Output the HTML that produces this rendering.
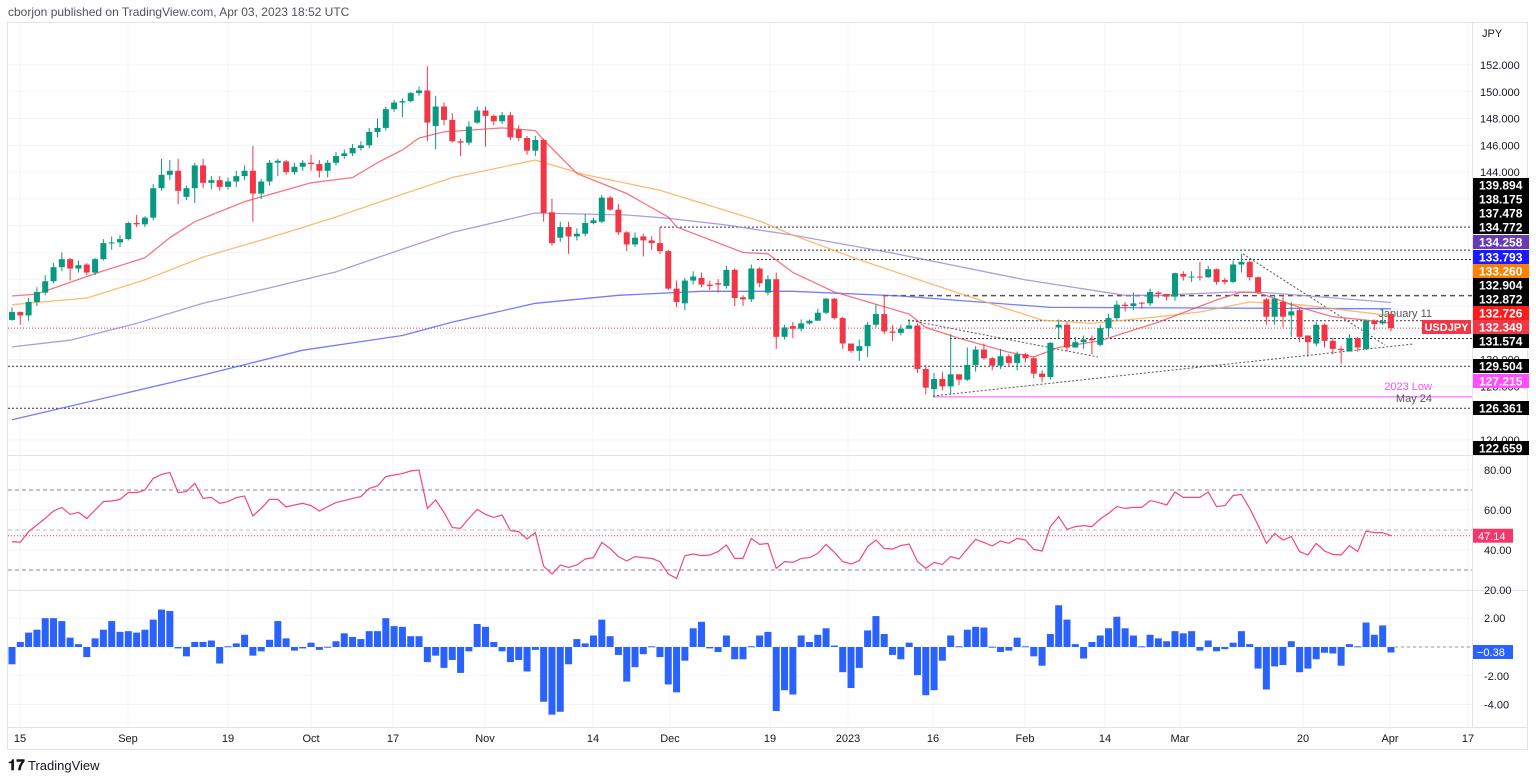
<!DOCTYPE html>
<html><head><meta charset="utf-8">
<style>
html,body{margin:0;padding:0;background:#fff;}
svg{display:block;font-family:"Liberation Sans",sans-serif;}
</style></head>
<body>
<svg id="c" width="1536" height="779" viewBox="0 0 1536 779" xmlns="http://www.w3.org/2000/svg">
<rect x="0" y="0" width="1536" height="779" fill="#fff"/>
<text x="8" y="16" font-size="12" fill="#50535e">cborjon published on TradingView.com, Apr 03, 2023 18:52 UTC</text>
<rect x="7.5" y="22.5" width="1520" height="727" fill="none" stroke="#e0e3eb"/>
<g id="grid"></g>
<g id="hlines"></g>
<g id="mas"></g>
<g id="candles"></g>
<g id="rsi"></g>
<g id="hist"></g>
<g id="axis"></g>
<g>
<text x="8" y="770" font-size="15" font-weight="bold" fill="#131722">𝟏𝟕</text>
<text x="28" y="770" font-size="13" fill="#131722">TradingView</text>
</g>
</svg>
<script>
// ---- data ----
const O=[132.96,133.55,133.3,134.3,135.0,135.85,136.9,137.5,136.8,137.1,136.5,137.5,138.7,138.75,139.0,140.2,140.1,140.6,142.8,143.8,144.1,142.15,142.8,144.5,143.2,143.4,142.9,143.3,143.7,144.1,142.4,143.3,144.7,144.8,144.0,144.4,144.7,144.6,144.1,144.7,145.2,145.4,145.8,146.0,147.0,147.3,148.7,149.2,149.3,149.9,150.1,147.45,148.9,147.9,146.3,146.2,147.7,148.6,148.2,147.8,148.25,147.2,146.55,145.6,146.4,141.0,139.1,139.9,139.2,139.4,140.2,140.3,142.1,141.2,139.5,138.6,139.2,138.9,138.7,138.1,135.3,134.2,135.9,136.1,135.6,135.7,135.5,136.7,134.65,134.5,136.8,135.0,136.0,131.7,132.5,132.3,132.7,132.9,133.5,134.55,133.1,131.2,130.65,131.0,132.6,133.4,132.1,132.0,132.3,132.55,129.3,127.8,128.55,128.0,128.9,128.5,129.6,130.75,130.1,129.55,130.25,129.75,130.4,130.1,128.95,128.7,132.4,132.6,130.9,131.3,131.55,131.1,132.35,133.1,134.1,134.0,134.25,134.2,135.0,134.9,134.7,136.4,136.2,136.2,136.15,136.75,135.95,135.8,137.1,137.3,136.15,134.5,133.2,134.3,133.3,133.7,131.8,131.2,132.6,131.4,130.8,130.6,131.6,130.8,132.9,132.7,133.4];
const C=[133.55,133.3,134.3,135.05,135.85,136.9,137.5,136.8,137.05,136.5,137.5,138.7,138.75,139.0,140.2,140.1,140.6,142.8,143.8,144.1,142.6,142.8,144.5,143.2,143.4,142.9,143.3,143.7,144.1,142.4,143.3,144.7,144.85,144.0,144.4,144.7,144.6,144.1,144.7,145.2,145.4,145.8,146.0,147.0,147.3,148.7,149.2,149.3,149.9,150.1,147.7,148.9,147.9,146.3,146.2,147.4,148.6,148.2,147.8,148.25,146.6,146.55,145.6,146.4,140.95,138.7,139.9,139.2,139.4,140.2,140.4,142.1,141.2,139.5,138.6,139.1,138.9,138.7,138.1,135.3,134.3,135.9,136.2,135.6,135.5,135.6,136.7,134.6,134.5,136.8,135.7,136.0,131.7,132.4,132.3,132.7,132.9,133.5,134.55,133.1,131.2,130.65,131.0,132.6,133.4,132.1,132.0,132.3,132.55,129.3,127.9,128.55,128.0,128.9,128.5,129.6,130.75,130.1,129.55,130.25,129.75,130.4,130.1,128.95,128.7,131.25,132.6,130.9,131.3,131.5,131.45,132.35,133.1,134.1,134.0,134.2,134.2,135.05,134.9,134.7,136.45,136.2,136.2,136.15,136.75,135.8,135.8,137.1,137.3,136.15,135.05,133.2,134.55,133.2,133.6,131.7,131.3,132.6,131.4,130.8,130.7,131.6,130.9,132.9,132.65,132.85,132.35];
const H=[133.9,133.6,134.6,135.4,136.3,137.2,138.0,137.6,137.4,137.2,137.6,139.0,139.2,139.3,140.3,140.8,140.7,143.1,145.0,144.9,145.0,143.0,144.7,145.0,143.7,143.7,143.6,144.1,144.5,145.95,143.5,144.9,145.0,144.9,144.7,144.9,145.3,144.9,144.9,145.5,145.7,146.1,146.3,147.3,148.0,148.9,149.4,149.5,150.0,150.4,151.9,149.7,149.2,148.4,146.5,147.8,148.9,148.9,148.3,148.5,148.5,147.5,146.7,146.7,146.5,142.0,140.3,140.3,139.8,140.9,140.6,142.3,142.2,141.6,139.6,139.5,139.4,139.2,139.9,138.2,135.9,136.1,136.6,136.5,135.9,136.0,137.0,136.8,134.8,137.1,136.9,136.3,136.5,132.6,132.8,133.0,133.0,133.8,134.6,134.6,133.2,131.2,131.5,132.8,134.1,134.8,132.6,132.6,132.9,132.7,129.6,129.0,129.1,131.9,128.9,130.9,131.0,131.2,130.2,130.8,130.4,130.6,130.5,130.2,129.2,131.3,133.0,132.8,131.7,131.8,131.8,132.6,133.4,134.4,134.3,135.0,134.3,135.3,135.1,134.9,136.5,136.6,136.6,137.3,137.0,136.8,136.1,137.4,137.9,137.4,136.2,134.6,134.8,134.8,134.3,133.8,131.8,132.8,132.7,131.6,131.0,131.9,131.7,133.0,133.0,133.7,133.6];
const L=[132.9,132.6,132.9,134.0,134.8,135.7,136.6,135.9,136.5,136.3,136.3,137.4,138.2,138.4,138.9,139.9,139.9,140.4,142.6,143.4,141.6,141.9,141.7,142.8,142.7,142.6,142.7,142.9,143.4,140.3,142.0,143.0,143.7,143.8,143.8,144.1,144.1,143.6,143.6,144.5,145.0,145.2,145.6,145.8,146.6,147.1,148.5,148.1,149.2,149.7,146.3,145.7,147.5,146.2,145.2,146.0,147.6,145.9,147.5,147.6,146.4,146.3,145.3,145.2,140.3,138.5,138.8,137.9,138.9,139.2,140.1,140.2,141.1,139.3,138.1,138.4,137.7,138.2,137.9,135.2,133.9,133.7,135.6,135.4,135.2,135.0,135.3,134.0,134.0,134.3,135.4,134.8,130.8,131.5,131.6,132.1,132.6,132.9,133.4,133.0,130.8,130.5,129.9,130.2,132.4,131.9,131.4,131.8,132.3,129.0,127.4,127.2,127.7,127.4,128.1,128.4,129.1,130.0,129.2,129.3,129.5,129.2,129.8,128.6,128.3,128.5,131.6,130.6,130.9,130.8,130.4,131.0,131.7,132.9,133.6,133.7,133.8,134.0,134.6,134.4,134.4,135.9,135.8,135.9,136.1,135.6,135.6,135.7,136.5,135.9,134.9,132.6,132.6,132.4,131.7,131.3,130.2,131.0,130.9,130.4,129.7,130.6,130.6,130.7,132.2,132.6,132.1];
const RSI=[44.2,43.9,49.2,52.5,55.8,59.5,61.3,57.8,58.8,55.8,60,64.2,64.5,65.3,68.8,68.7,70,75.8,77.8,78.8,68.7,69.2,73.3,65.8,66.3,63.3,64.2,66.2,67,57,60.8,65.3,65.3,61.5,62.5,63.3,62.2,59.5,61.7,63.7,64.7,65.8,66.7,70.8,72,76.7,77.5,78.2,79.5,80,60.8,65,58.8,51.2,50.8,55.8,60.3,57.8,56.3,57.5,49.7,49.2,45.5,48.7,32,28,32.5,31.3,32.5,35.5,36.2,43.8,40.8,36.7,34.5,36.7,36.2,35.8,34.2,28,25.8,37.2,38,37.2,37.5,39.2,42.5,35.8,35.8,45.8,42.8,43.3,30.8,34.2,33.8,35.8,36.2,38.3,42.8,38.8,34.2,33,34.7,41.7,45,40.8,40.5,42.2,43,34.2,30.8,33.8,32.8,36.7,35.5,40.5,45.3,43.8,42,44.5,43.3,45.8,45,40.3,39.5,51.7,56.7,50.3,51.7,52.2,51.7,55.5,58.3,61.7,60.8,61.3,61.3,64.7,63.8,62.5,69,66.3,66.3,66.3,69,61.7,62.2,67.2,67.8,60.8,52.5,43.3,48.3,45,46.7,39.2,37.5,43.3,39.5,37.8,37.5,42.2,39.2,49.5,48.7,48.7,47.14];
const HIST=[-1.2,0.35,1.0,1.2,2.0,2.0,1.8,0.65,0.2,-0.7,0.6,1.2,1.8,1.05,1.1,1.0,1.2,1.9,2.6,2.5,-0.1,-0.65,0.35,0.35,0.45,-1.15,0.05,0.25,0.85,-0.6,-0.3,0.5,1.8,0.6,-0.25,-0.1,0.3,-0.2,0.02,0.4,0.95,0.7,0.55,1.1,1.1,2.0,1.45,1.4,0.75,0.75,-1.05,-0.6,-1.45,-0.9,-1.8,-0.3,1.6,1.4,0.35,-0.3,-1.05,-0.9,-1.7,-0.2,-3.8,-4.7,-4.5,-1.2,0.55,0.25,0.8,1.9,0.75,-0.55,-2.4,-1.4,-0.5,0.05,-0.7,-2.6,-3.15,-0.95,1.3,1.75,-0.1,-0.35,0.8,-0.85,-0.85,0.05,0.8,1.05,-4.45,-3.0,-3.3,0.8,0.35,0.85,1.3,0.1,-1.75,-2.85,-1.45,1.15,2.15,0.9,-0.55,-0.85,0.3,-1.95,-3.35,-3.0,-0.95,0.8,0.05,1.2,1.4,1.35,0.02,-0.35,-0.25,0.65,0.05,-0.65,-1.3,0.9,2.9,1.9,0.2,-0.8,0.35,0.8,1.3,2.1,1.3,0.8,0.05,0.85,0.6,0.4,1.1,0.95,1.1,-0.25,0.45,-0.3,-0.15,0.3,1.1,0.2,-1.5,-2.95,-1.35,-1.25,0.4,-1.75,-1.5,-0.85,-0.4,-0.45,-1.3,0.2,0.05,1.7,0.85,1.5,-0.38];
// moving averages sampled at bar indices
const ma20Idx=[0,3,10.6,16,19,22,28,32,36,41,44,47,49,52,59,63,64,68,74,79,80,88,91,94,99,108,110,114,120,123,126,131,138,145,148,150,155,159,163,166];
const ma20Val=[134.75,134.9,136.55,137.6,139.1,140.3,141.8,142.5,143.2,143.6,144.7,145.65,146.55,147.0,147.3,147.1,146.4,143.9,142.4,140.65,139.9,138.0,137.9,136.5,135.05,133.4,132.4,131.6,130.55,130.2,130.9,131.4,132.8,134.45,135.05,135.0,133.9,133.2,132.95,132.73];
const ma50Idx=[0,9,16,23,31,39,47,53,63,69,78,90,94,102,114,124,130,138,143,149,155,163,166];
const ma50Val=[134.1,134.6,135.95,137.65,139.1,140.65,142.35,143.6,144.9,143.8,142.65,140.35,139.3,137.45,134.95,132.95,132.7,133.2,133.55,134.3,134.1,133.5,133.26];
const ma100Idx=[0,7,15,23,31,39,47,53,63,74,79,86,94,106,122,134,138,147,151,166];
const ma100Val=[130.95,131.45,132.7,134.2,135.35,136.55,138.25,139.5,140.95,140.8,140.55,140.05,139.3,137.95,135.95,134.8,134.8,135.05,135.0,134.26];
const ma200Idx=[0,23,35,47,53,63,73,83,94,107,125,143,166];
const ma200Val=[125.5,128.85,130.7,131.8,132.8,134.2,134.8,135.1,135.1,134.75,133.9,133.85,133.79];
const priceTicks=[152,150,148,146,144,130,128,124];
const rsiTicks=[80,60,40,20];
const histTicks=[2,-2,-4];
const timeLabels=["15","Sep","19","Oct","17","Nov","14","Dec","19","2023","16","Feb","14","Mar","20","Apr","17"];
const timeX=[20,128,228,311,393,485,593,670,770,848,933,1025,1105,1180,1303,1390,1468];

// ---- axis functions ----
const NS="http://www.w3.org/2000/svg";
const xOf=i=>12+i*8.307;
const yP=p=>65+(152-p)*13.39;
const yR=v=>470+(80-v)*2;
const yH=v=>647-v*14.4;
function mk(tag,attrs,parent,txt){const e=document.createElementNS(NS,tag);for(const k in attrs)e.setAttribute(k,attrs[k]);if(txt!==undefined)e.textContent=txt;parent.appendChild(e);return e;}
const G=id=>document.getElementById(id);

// grid
const grid=G('grid');
for(const x of timeX){const l=mk('line',{x1:x,x2:x,y1:23,y2:727,stroke:'#f0f3fa'},grid);}
for(let p=124;p<=152;p+=2){const l=mk('line',{x1:8,x2:1472,y1:yP(p),y2:yP(p),stroke:'#f0f3fa'},grid);}
for(const v of rsiTicks){mk('line',{x1:8,x2:1472,y1:yR(v),y2:yR(v),stroke:'#f0f3fa'},grid);}
for(const v of [2,0,-2,-4]){mk('line',{x1:8,x2:1472,y1:yH(v),y2:yH(v),stroke:'#f0f3fa'},grid);}
mk('line',{x1:8,x2:1527,y1:455.5,y2:455.5,stroke:'#e0e3eb'},grid);
mk('line',{x1:8,x2:1527,y1:590.5,y2:590.5,stroke:'#e0e3eb'},grid);
mk('line',{x1:8,x2:1527,y1:727.5,y2:727.5,stroke:'#e0e3eb'},grid);
mk('line',{x1:1472.5,x2:1472.5,y1:23,y2:727,stroke:'#e0e3eb'},grid);

// horizontal annotation lines
const hl=G('hlines');
function hline(p,x1,dash,color,name,w){const l=mk('line',{x1:x1,x2:1472,y1:yP(p),y2:yP(p),stroke:color,'stroke-dasharray':dash,'stroke-width':w||1},hl);}
hline(139.894,660,'2 2','#333','level-139-894');
hline(138.175,752,'2 2','#333','level-138-175');
hline(137.478,757,'2 2','#333','level-137-478');
hline(134.772,883,'5 4','#555','level-134-772',1.5);
hline(132.904,908,'2 2','#333','level-january-11');
hline(131.574,950,'2 2','#333','level-131-574');
hline(129.504,8,'2 2','#333','level-129-504');
hline(127.215,933,'none','#ff4dff','level-2023-low');
hline(126.361,8,'2 2','#333','level-126-361');
hline(132.349,8,'1 2','#f23645','current-price-line');
function seg(x1,y1,x2,y2,name){const l=mk('line',{x1,y1,x2,y2,stroke:'#555','stroke-dasharray':'2 2'},hl);}
seg(908,320,1098,357,'trendline-jan-resistance');
seg(1243,254,1385,345,'trendline-march-resistance');
seg(933,396,1413,344,'trendline-support');
const t1=mk('text',{x:1432,y:317,'font-size':11,fill:'#555','text-anchor':'end'},hl,'January 11');
const t2=mk('text',{x:1432,y:390,'font-size':11,fill:'#ff4dff','text-anchor':'end'},hl,'2023 Low');
const t3=mk('text',{x:1432,y:402,'font-size':11,fill:'#555','text-anchor':'end'},hl,'May 24');

// moving averages
const mg=G('mas');
function maLine(idx,val,color,name){const pts=idx.map((i,k)=>xOf(i).toFixed(1)+','+yP(val[k]).toFixed(1)).join(' ');const l=mk('polyline',{points:pts,fill:'none',stroke:color,'stroke-width':1.3,'stroke-opacity':0.8},mg);}
maLine(ma200Idx,ma200Val,'#4d5cff','sma-200');
maLine(ma100Idx,ma100Val,'#9c82d9','sma-100');
maLine(ma50Idx,ma50Val,'#ffa94d','sma-50');
maLine(ma20Idx,ma20Val,'#f7525f','sma-20');

// candles
const cg=G('candles');
for(let i=0;i<C.length;i++){
  const up=C[i]>=O[i];const col=up?'#089981':'#f23645';const x=xOf(i);
  const g=mk('g',{},cg);
  
  
  mk('line',{x1:x,x2:x,y1:yP(H[i]),y2:yP(L[i]),stroke:col,'stroke-width':1},g);
  const t=yP(Math.max(O[i],C[i])),b=yP(Math.min(O[i],C[i]));
  mk('rect',{x:x-3,y:t,width:6,height:Math.max(1,b-t),fill:col},g);
}

// RSI
const rg=G('rsi');
for(const [v,c,d] of [[70,'#888','4 3'],[50,'#bbb','4 3'],[30,'#888','4 3']]){const l=mk('line',{x1:8,x2:1472,y1:yR(v),y2:yR(v),stroke:c,'stroke-dasharray':d},rg);}
mk('line',{x1:8,x2:1472,y1:yR(RSI[RSI.length-1]),y2:yR(RSI[RSI.length-1]),stroke:'#f23645','stroke-dasharray':'1 2'},rg);
const rl=mk('polyline',{points:RSI.map((v,i)=>xOf(i).toFixed(1)+','+yR(v).toFixed(1)).join(' '),fill:'none',stroke:'#f2487a','stroke-width':1.2},rg);



// histogram
const hg=G('hist');
const zl=mk('line',{x1:1395,x2:1472,y1:yH(0),y2:yH(0),stroke:'#999','stroke-dasharray':'3 3'},hg);


for(let i=0;i<HIST.length;i++){const v=HIST[i];const y0=yH(0),y1=yH(v);const r=mk('rect',{x:xOf(i)-3.5,y:Math.min(y0,y1),width:7,height:Math.max(1,Math.abs(y1-y0)),fill:'#2962ff'},hg);}

// axes
const ag=G('axis');
mk('text',{x:1482,y:37,'font-size':11,fill:'#131722'},ag,'JPY');
for(const p of priceTicks){const t=mk('text',{x:1480,y:yP(p)+4,'font-size':11,fill:'#131722'},ag,p.toFixed(3));}
for(const v of rsiTicks){const t=mk('text',{x:1484,y:yR(v)+4,'font-size':11,fill:'#131722'},ag,v.toFixed(2));}
for(const v of histTicks){const t=mk('text',{x:1484,y:yH(v)+4,'font-size':11,fill:'#131722'},ag,v.toFixed(2));}
const badges=[["139.894",185,'#000'],["138.175",199,'#000'],["137.478",213,'#000'],["134.772",227,'#000'],["134.258",242,'#673ab7'],["133.793",257,'#1a1aff'],["133.260",271,'#ff8000'],["132.904",285,'#000'],["132.872",299,'#000'],["132.726",313,'#ff1a1a'],["132.349",327,'#f23645'],["131.574",341,'#000'],["129.504",366,'#000'],["127.215",381,'#ff4dff'],["126.361",408,'#000'],["122.659",448,'#000']];
for(const [s,y,c] of badges){const g=mk('g',{},ag);mk('rect',{x:1473,y:y-7,width:56,height:14,fill:c},g);mk('text',{x:1479,y:y+4.5,'font-size':12,'font-weight':'bold',fill:'#fff'},g,s);}
const sym=mk('g',{},ag);
mk('rect',{x:1422,y:320,width:49,height:14,fill:'#f23645'},sym);mk('text',{x:1446.5,y:331,'font-size':11,'font-weight':'bold',fill:'#fff','text-anchor':'middle'},sym,'USDJPY');
const rb=mk('g',{},ag);
mk('rect',{x:1473,y:yR(47.14)-7,width:40,height:14,fill:'#f2386a'},rb);mk('text',{x:1478,y:yR(47.14)+4.5,'font-size':11,fill:'#fff'},rb,'47.14');
const hb=mk('g',{},ag);
mk('rect',{x:1473,y:645,width:40,height:14,fill:'#2962ff'},hb);mk('text',{x:1477,y:656,'font-size':11,fill:'#fff'},hb,'−0.38');
for(let k=0;k<timeLabels.length;k++){const t=mk('text',{x:timeX[k],y:742,'font-size':11,fill:'#131722','text-anchor':'middle'},ag,timeLabels[k]);}
</script>
</body></html>
